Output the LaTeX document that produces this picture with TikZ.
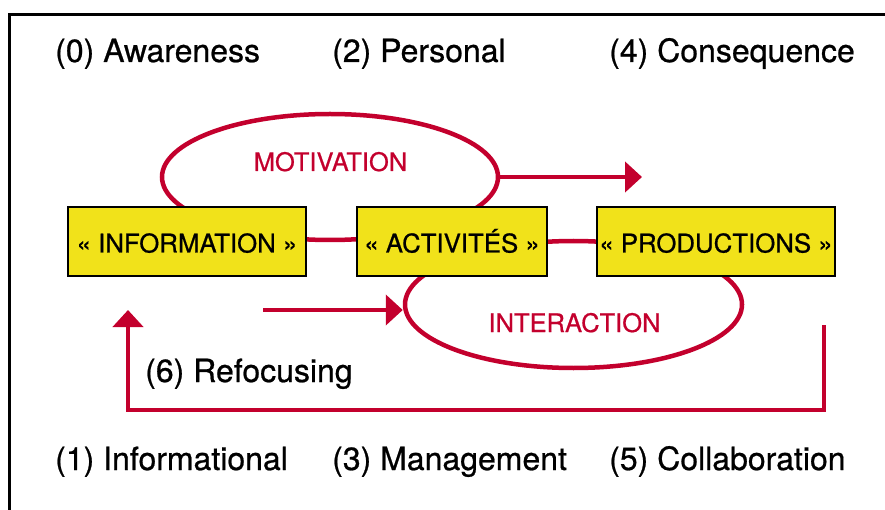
\documentclass[tikz,border=0pt]{standalone}
\usepackage{fontspec}
\setmainfont{TeX Gyre Heros}[FakeBold=0.7]
\usetikzlibrary{arrows.meta,shapes.geometric}
\definecolor{cred}{RGB}{195,0,45}
\definecolor{cyellow}{RGB}{241,226,26}
\tikzset{
  title/.style={anchor=base west,inner sep=0pt,font=\fontsize{32}{36}\selectfont},
  boxnode/.style={draw=black,line width=2pt,fill=cyellow,inner sep=0pt,
    minimum height=69pt,text height=22pt,text depth=0pt,
    font=\fontsize{25.8}{30}\selectfont},
  loop/.style={ellipse,draw=cred,line width=4.5pt,inner sep=0pt},
  looplabel/.style={anchor=base,inner sep=0pt,text=cred,font=\fontsize{25.5}{30}\selectfont},
  redarrow/.style={draw=cred,line width=4.5pt,-{Triangle[length=17pt,width=30pt]}},
  redline/.style={draw=cred,line width=4.5pt},
  frameline/.style={draw=black,line width=2.8pt}
}
\begin{document}
\begin{tikzpicture}[x=1pt,y=-1pt]
\useasboundingbox (0,0) rectangle (885,510);
% frame
\coordinate (fa) at (9.5,510);
\coordinate (fb) at (9.5,14.5);
\coordinate (fc) at (885,14.5);
\draw[frameline] (fa) -- (fb) -- (fc);
% titles
\node[title] (t0) at (55,62) {(0) Awareness};
\node[title] (t2) at (332,62) {(2) Personal};
\node[title] (t4) at (609,62) {(4) Consequence};
\node[title] (t1) at (55,470) {(1) Informational};
\node[title] (t3) at (332,470) {(3) Management};
\node[title] (t5) at (609,470) {(5) Collaboration};
\node[title] (t6) at (145,382) {(6) Refocusing};
% loops
\node[loop,minimum width=336pt,minimum height=126pt] (mot) at (330,177) {};
\node[loop,minimum width=337pt,minimum height=127pt] (int) at (573.5,304.5) {};
\node[looplabel] (motl) at (330.5,171) {MOTIVATION};
\node[looplabel] (intl) at (574.5,332) {INTERACTION};
% arrows
\coordinate (motend) at (642,177);
\draw[redarrow] (mot.east) -- (motend);
\coordinate (intstart) at (263,310);
\draw[redarrow] (intstart) -- (intstart -| int.west);
\coordinate (rf1) at (824,325);
\coordinate (rfc) at (128,410);
\coordinate (rf2) at (128,310);
\draw[redarrow] (rf1) |- (rfc) -- (rf2);
% boxes
\node[boxnode,minimum width=238pt] (info) at (187,241.5) {« INFORMATION »};
\node[boxnode,minimum width=190pt] (acti) at (452,241.5) {« ACTIVITÉS »};
\node[boxnode,minimum width=238pt] (prod) at (716,241.5) {« PRODUCTIONS »};
\end{tikzpicture}
\end{document}
